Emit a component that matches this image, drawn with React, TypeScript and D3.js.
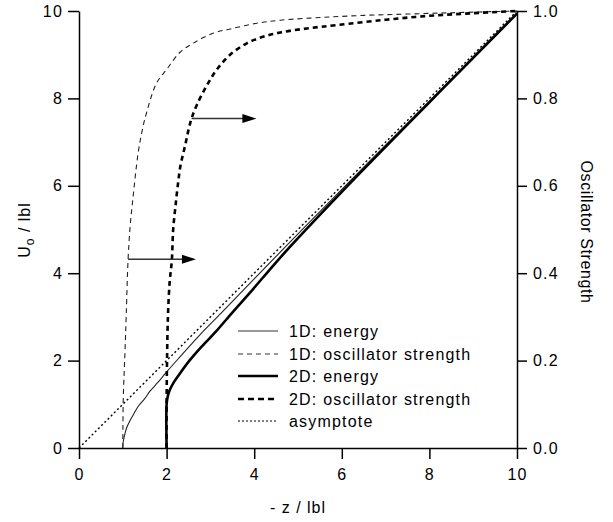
import React, { useEffect, useRef } from 'react';
import * as d3 from 'd3';

// values: [-z/|b|, value]
const energy1D: [number, number][] = [
  [1, 0], [1.005, 0.1], [1.02, 0.2], [1.05, 0.33], [1.09, 0.47], [1.15, 0.6], [1.25, 0.78],
  [1.35, 0.95], [1.5, 1.13], [1.62, 1.3], [1.8, 1.5], [2, 1.74], [2.3, 2.08], [2.75, 2.58],
  [3.25, 3.09], [4, 3.87], [5, 4.9], [6, 5.92], [7, 6.93], [8, 7.94], [9, 8.94], [10, 9.95],
];
const energy2D: [number, number][] = [
  [2, 0], [2, 1.0], [2.02, 1.15], [2.06, 1.3], [2.15, 1.48], [2.3, 1.7], [2.53, 2.01],
  [2.8, 2.32], [3.14, 2.68], [3.5, 3.1], [3.9, 3.55], [4.5, 4.25], [5, 4.8], [6, 5.86],
  [7, 6.89], [8, 7.91], [9, 8.93], [10, 9.94],
];
const osc1D: [number, number][] = [
  [1, 0], [1.003, 0.05], [1.01, 0.11], [1.03, 0.17], [1.05, 0.22], [1.08, 0.31], [1.12, 0.43],
  [1.17, 0.51], [1.23, 0.57], [1.35, 0.675], [1.45, 0.73], [1.55, 0.77], [1.77, 0.835],
  [2.0, 0.866], [2.3, 0.905], [2.6, 0.926], [3.06, 0.949], [3.5, 0.96], [4.06, 0.972],
  [4.6, 0.979], [5.5, 0.985], [6.5, 0.99], [7.5, 0.993], [8.5, 0.996], [10, 1],
];
const osc2D: [number, number][] = [
  [2, 0], [2.0, 0.1], [2.01, 0.2], [2.03, 0.3], [2.07, 0.38], [2.12, 0.43], [2.15, 0.5],
  [2.21, 0.56], [2.27, 0.613], [2.32, 0.648], [2.38, 0.674], [2.44, 0.7], [2.5, 0.728],
  [2.57, 0.754], [2.69, 0.785], [2.92, 0.83], [3.14, 0.865], [3.45, 0.9], [3.83, 0.926],
  [4.2, 0.941], [4.6, 0.951], [5.2, 0.96], [5.9, 0.968], [7, 0.98], [8, 0.989], [9, 0.995], [10, 1],
];
const asymptote: [number, number][] = [[0, 0], [10, 10]];

// arrows pointing to the right axis: start x, end x, oscillator strength
const arrows = [
  { from: 1.12, to: 2.67, f: 0.432 },
  { from: 2.57, to: 4.05, f: 0.754 },
];

const xTicks = [0, 2, 4, 6, 8, 10];
const yTicks = [0, 2, 4, 6, 8, 10];
const fTicks = [0, 0.2, 0.4, 0.6, 0.8, 1.0];

const legendItems = [
  { label: '1D: energy', width: 1, dash: null, color: '#333' },
  { label: '1D: oscillator strength', width: 1, dash: '5,4', color: '#333' },
  { label: '2D: energy', width: 2.6, dash: null, color: '#000' },
  { label: '2D: oscillator strength', width: 2.6, dash: '6,4', color: '#000' },
  { label: 'asymptote', width: 1.2, dash: '2,2', color: '#000' },
];

const W = 613;
const H = 522;
const FONT = '"Liberation Sans", Arial, sans-serif';

export default function App() {
  const ref = useRef<SVGSVGElement>(null);

  useEffect(() => {
    const svg = d3.select(ref.current);
    svg.selectAll('*').remove();

    const x = d3.scaleLinear().domain([0, 10]).range([79, 517]);
    const yL = d3.scaleLinear().domain([0, 10]).range([448, 11]);
    const yR = d3.scaleLinear().domain([0, 1]).range([448, 11]);

    const styleAxis = (g) => {
      g.selectAll('path').attr('stroke', '#000').attr('stroke-width', 1.5);
      g.selectAll('line').attr('stroke', '#000').attr('stroke-width', 1.5);
      g.selectAll('text')
        .attr('font-family', FONT)
        .attr('font-size', 16)
        .attr('letter-spacing', 1.2)
        .attr('fill', '#000');
    };

    svg.append('g')
      .attr('transform', 'translate(79,0)')
      .call(d3.axisLeft(yL).tickValues(yTicks).tickSize(11).tickSizeOuter(0).tickPadding(5).tickFormat(d3.format('d')))
      .call(styleAxis);

    svg.append('g')
      .attr('transform', 'translate(0,448)')
      .call(d3.axisBottom(x).tickValues(xTicks).tickSize(11).tickSizeOuter(0).tickPadding(10).tickFormat(d3.format('d')))
      .call(styleAxis);

    svg.append('g')
      .attr('transform', 'translate(517,0)')
      .call(d3.axisRight(yR).tickValues(fTicks).tickSize(10).tickSizeOuter(0).tickPadding(6).tickFormat(d3.format('.1f')))
      .call(styleAxis);

    const lineL = d3.line<[number, number]>()
      .x((d) => x(d[0]))
      .y((d) => yL(d[1]))
      .curve(d3.curveCatmullRom.alpha(0.5));
    const lineR = d3.line<[number, number]>()
      .x((d) => x(d[0]))
      .y((d) => yR(d[1]))
      .curve(d3.curveCatmullRom.alpha(0.5));

    const plot = svg.append('g').attr('fill', 'none').attr('stroke-linejoin', 'round');

    plot.append('path').attr('d', lineL(asymptote))
      .attr('stroke', '#000').attr('stroke-width', 1.4).attr('stroke-dasharray', '2,2.5');
    plot.append('path').attr('d', lineL(energy1D))
      .attr('stroke', '#222').attr('stroke-width', 1.1);
    plot.append('path').attr('d', lineL(energy2D))
      .attr('stroke', '#000').attr('stroke-width', 2.6);
    plot.append('path').attr('d', lineR(osc1D))
      .attr('stroke', '#222').attr('stroke-width', 1.1).attr('stroke-dasharray', '5,4');
    plot.append('path').attr('d', lineR(osc2D))
      .attr('stroke', '#000').attr('stroke-width', 2.6).attr('stroke-dasharray', '5,4');

    // arrows
    arrows.forEach((a) => {
      const x0 = x(a.from);
      const x1 = x(a.to);
      const yy = yR(a.f);
      svg.append('line')
        .attr('x1', x0).attr('x2', x1 - 12).attr('y1', yy).attr('y2', yy)
        .attr('stroke', '#333').attr('stroke-width', 1.6);
      svg.append('path')
        .attr('d', `M${x1},${yy}L${x1 - 14},${yy - 4.5}L${x1 - 14},${yy + 4.5}Z`)
        .attr('fill', '#000');
    });

    // legend
    const legY = [331, 354, 376, 399, 421];
    const leg = svg.append('g');
    legendItems.forEach((it, i) => {
      leg.append('line')
        .attr('x1', 238).attr('x2', 278).attr('y1', legY[i]).attr('y2', legY[i])
        .attr('stroke', it.color).attr('stroke-width', it.width)
        .attr('stroke-dasharray', it.dash);
      leg.append('text')
        .attr('x', 289).attr('y', legY[i]).attr('dy', '0.36em')
        .attr('font-family', FONT).attr('font-size', 16).attr('letter-spacing', 1.2)
        .text(it.label);
    });

    // axis titles
    svg.append('text')
      .attr('x', 298).attr('y', 513)
      .attr('text-anchor', 'middle')
      .attr('font-family', FONT).attr('font-size', 16).attr('letter-spacing', 1)
      .text('- z / lbl');

    const yt = svg.append('text')
      .attr('transform', 'translate(30,230) rotate(-90)')
      .attr('text-anchor', 'middle')
      .attr('font-family', FONT).attr('font-size', 16).attr('letter-spacing', 1);
    yt.append('tspan').text('U');
    yt.append('tspan').attr('font-size', 12).attr('dy', 4).text('o');
    yt.append('tspan').attr('dy', -4).text(' / lbl');

    svg.append('text')
      .attr('transform', 'translate(581,232) rotate(90)')
      .attr('text-anchor', 'middle')
      .attr('font-family', FONT).attr('font-size', 16).attr('letter-spacing', 0.6)
      .text('Oscillator Strength');
  }, []);

  return (
    <svg
      ref={ref}
      width={W}
      height={H}
      style={{ position: 'absolute', left: 0, top: 0, background: '#fff' }}
    />
  );
}
